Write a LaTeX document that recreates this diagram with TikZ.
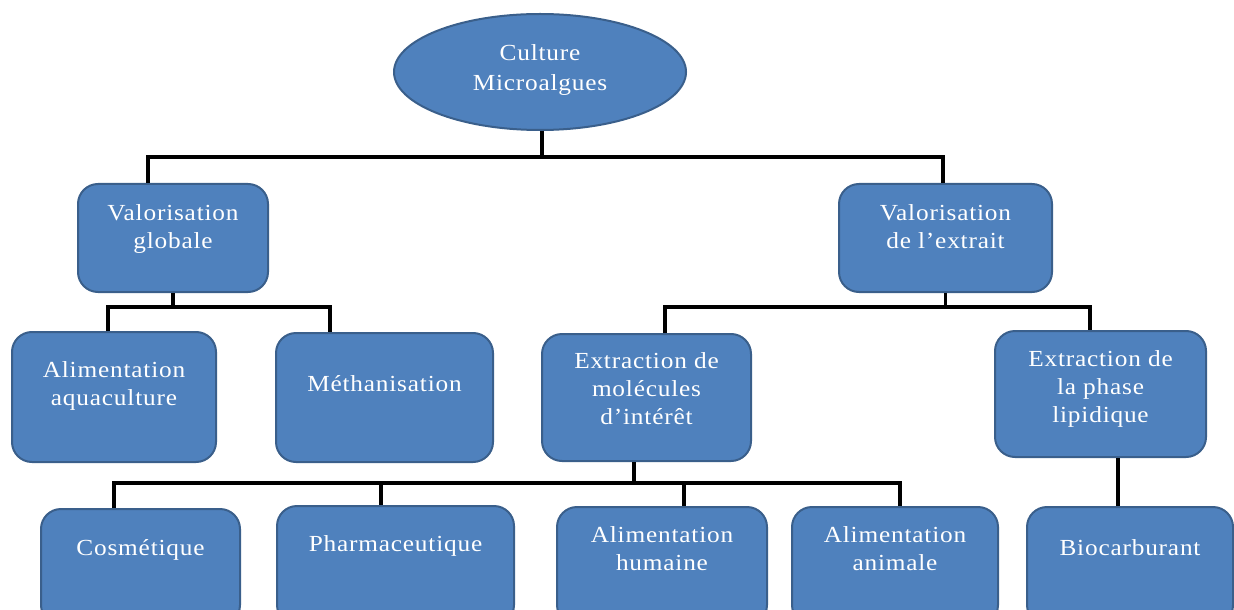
\documentclass[tikz,border=0pt]{standalone}
\usepackage{fontspec}
\setmainfont{Liberation Serif}[FakeStretch=1.1,LetterSpace=3.5]
\usetikzlibrary{positioning,shapes.geometric}
\definecolor{boxfill}{HTML}{4F81BD}
\definecolor{boxline}{HTML}{3A5F8B}
\tikzset{
  box/.style={draw=boxline, fill=boxfill, line width=1pt, rounded corners=10pt},
  txt/.style={text=white, align=center, inner sep=0pt, font=\fontsize{11.5}{14}\selectfont},
  link/.style={black, line width=1.9pt}
}

\begin{document}
\begin{tikzpicture}[x=0.5pt, y=-0.5pt]
  % page frame: 1234 x 609 px
  \useasboundingbox (0,0) rectangle (1234,609);
  \clip (0,0) rectangle (1234,609);
  % root
  \node (root) [ellipse, draw=boxline, fill=boxfill, line width=1pt, minimum width=146pt, minimum height=58pt] at (540,72) {};
  \node (rootT) [txt, font=\fontsize{11.5}{15}\selectfont, below=15.5pt of root.north] {Culture\\Microalgues};
  % level 1
  \node (vg) [box, minimum width=95pt, minimum height=54pt] at (173,238) {};
  \node (vgT) [txt, below=10.5pt of vg.north] {Valorisation\\globale};
  \node (ve) [box, minimum width=106.5pt, minimum height=54pt] at (945.5,238) {};
  \node (veT) [txt, below=10.5pt of ve.north] {Valorisation\\de l’extrait};
  % level 2
  \node (aa) [box, minimum width=102pt, minimum height=65pt] at (114,397) {};
  \node (aaT) [txt, below=15pt of aa.north] {Alimentation\\aquaculture};
  \node (me) [box, minimum width=108.5pt, minimum height=64.5pt] at (384.5,397.5) {};
  \node (meT) [txt, below=21.5pt of me.north] {Méthanisation};
  \node (em) [box, minimum width=104.5pt, minimum height=63.5pt] at (646.5,397.5) {};
  \node (emT) [txt, below=9.5pt of em.north] {Extraction de\\molécules\\d’intérêt};
  \node (ep) [box, minimum width=105.5pt, minimum height=63pt] at (1100.5,394) {};
  \node (epT) [txt, below=10pt of ep.north] {Extraction de\\la phase\\lipidique};
  % level 3
  \node (co) [box, minimum width=99.5pt, minimum height=58pt] at (140.5,567) {};
  \node (coT) [txt, below=15.5pt of co.north] {Cosmétique};
  \node (ph) [box, minimum width=118.5pt, minimum height=59.5pt] at (395.5,565.5) {};
  \node (phT) [txt, below=15pt of ph.north] {Pharmaceutique};
  \node (ah) [box, minimum width=105pt, minimum height=59pt] at (662,566) {};
  \node (ahT) [txt, below=10pt of ah.north] {Alimentation\\humaine};
  \node (an) [box, minimum width=103pt, minimum height=59pt] at (895,566) {};
  \node (anT) [txt, below=10pt of an.north] {Alimentation\\animale};
  \node (bi) [box, minimum width=103pt, minimum height=59pt] at (1130,566) {};
  \node (biT) [txt, below=16.5pt of bi.north] {Biocarburant};
  % bus corners
  \coordinate (b0) at (148,157);
  \coordinate (b1) at (943,157);
  \coordinate (b2) at (108,307);
  \coordinate (b3) at (330,307);
  \coordinate (b4) at (665,307);
  \coordinate (b5) at (1090,307);
  \coordinate (b6) at (114,483);
  \coordinate (b7) at (900,483);
  \coordinate (b8) at (634,483);
  \coordinate (c1) at (381,483);
  \coordinate (c2) at (684,483);
  \coordinate (b9) at (1118,0);
  \coordinate (ra) at (542,0);
  % connectors
  \draw[link] (root.south -| ra) -- (b0 -| ra);
  \draw[link] (vg.north -| b0) |- (b1) -- (ve.north -| b1);
  \draw[link] (vg.south) -- (vg.south |- b2);
  \draw[link] (aa.north -| b2) |- (b3) -- (me.north -| b3);
  \draw[link] (ve.south) -- (ve.south |- b4);
  \draw[link] (em.north -| b4) |- (b5) -- (ep.north -| b5);
  \draw[link] (em.south -| b8) -- (b8);
  \draw[link] (co.north -| b6) |- (b7) -- (an.north -| b7);
  \draw[link] (c1) -- (ph.north -| c1);
  \draw[link] (c2) -- (ah.north -| c2);
  \draw[link] (ep.south -| b9) -- (bi.north -| b9);
\end{tikzpicture}
\end{document}
